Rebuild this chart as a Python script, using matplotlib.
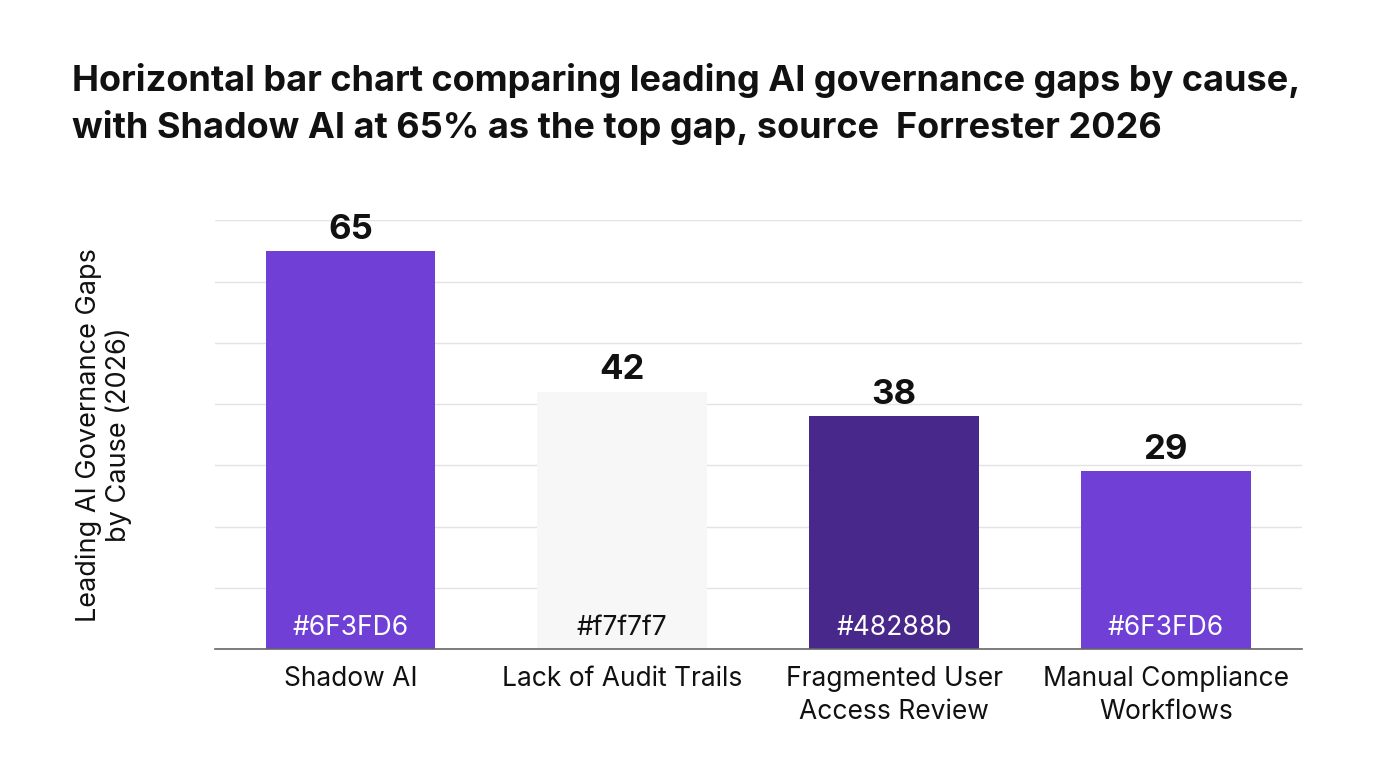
import matplotlib.pyplot as plt

plt.rcParams['font.family'] = ['Inter', 'DejaVu Sans']

categories = ['Shadow AI', 'Lack of Audit Trails', 'Fragmented User\nAccess Review',
              'Manual Compliance\nWorkflows']
values = [65, 42, 38, 29]
colors = ['#6F3FD6', '#f7f7f7', '#48288b', '#6F3FD6']
inner_text_colors = ['white', '#111111', 'white', 'white']

fig = plt.figure(figsize=(13.76, 7.68), dpi=100)
ax = fig.add_axes([0.156, 0.155, 0.79, 0.558])

x = range(len(categories))
bars = ax.bar(x, values, width=0.625, color=colors, zorder=2)

# value labels above, colour names inside
for i, b in enumerate(bars):
    ax.text(b.get_x() + b.get_width() / 2, values[i] + 0.9, str(values[i]),
            ha='center', va='bottom', fontsize=25, fontweight='bold', color='#111111')
    ax.text(b.get_x() + b.get_width() / 2, 3.5, colors[i],
            ha='center', va='center', fontsize=19, color=inner_text_colors[i])

ax.set_xlim(-0.5, 3.5)
ax.set_ylim(0, 70)
ax.set_yticks(range(0, 71, 10))
ax.set_yticklabels([])
ax.tick_params(axis='y', length=0)
ax.tick_params(axis='x', length=0, pad=12)
ax.set_xticks(list(x))
ax.set_xticklabels(categories, fontsize=19, color='#111111', linespacing=1.35)
ax.yaxis.grid(True, color='#e3e3e3', lw=1, zorder=0)
for s in ['top', 'right', 'left']:
    ax.spines[s].set_visible(False)
ax.spines['bottom'].set_color('#666666')
ax.spines['bottom'].set_linewidth(1.2)
ax.spines['bottom'].set_zorder(3)

ax.set_ylabel('Leading AI Governance Gaps\nby Cause (2026)', fontsize=19.5, color='#111111',
              labelpad=56, linespacing=1.15)

fig.text(0.052, 0.918, 'Horizontal bar chart comparing leading AI governance gaps by cause,\n'
         'with Shadow AI at 65% as the top gap, source  Forrester 2026',
         fontsize=26, fontweight='bold', color='#111111', va='top', ha='left', linespacing=1.42)

fig.savefig('out.png', dpi=100, facecolor='white')
